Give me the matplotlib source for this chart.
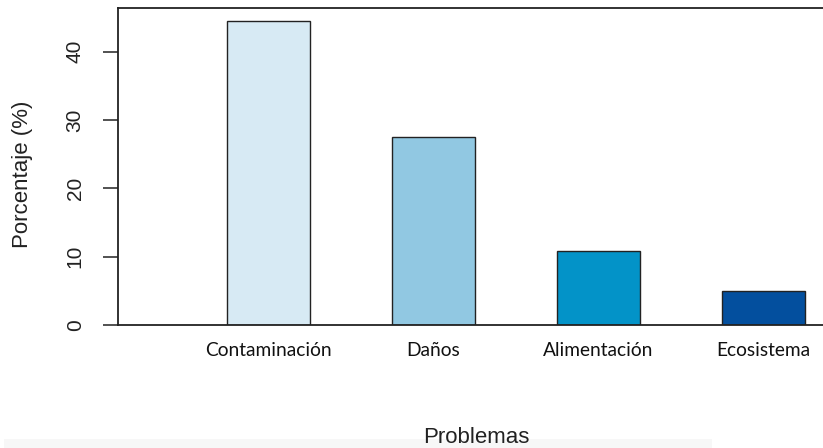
import matplotlib
matplotlib.use('Agg')
import matplotlib.pyplot as plt
from matplotlib.patches import Rectangle

categorias = ['Contaminación', 'Daños', 'Alimentación', 'Ecosistema']
porcentajes = [44.5, 27.5, 10.8, 5.0]
colores = ['#d7eaf4', '#91c8e2', '#0393c8', '#034f9e']
yticks = [0, 10, 20, 30, 40]

W, H = 823, 448
fig = plt.figure(figsize=(W / 100, H / 100), dpi=100)
fig.patch.set_facecolor('white')

# faint gray band at the very bottom of the screenshot
fig.patches.append(Rectangle((0.005, 0), 0.86, 9 / H, transform=fig.transFigure,
                             facecolor='#f7f7f7', edgecolor='none', zorder=0))

left, right, top, bottom = 118, 823, 8, 325
ax = fig.add_axes([left / W, (H - bottom) / H, (right - left) / W, (bottom - top) / H])

x = range(1, len(categorias) + 1)
ax.bar(x, porcentajes, width=0.5, color=colores, edgecolor='#222222', linewidth=1.0, zorder=2)

ax.set_xlim(0.088, 4.36)
ax.set_ylim(0, 46.4)

for s in ['left', 'top', 'bottom']:
    ax.spines[s].set_linewidth(1.3)
    ax.spines[s].set_color('#222222')
ax.spines['right'].set_visible(False)

ax.set_yticks(yticks)
ax.set_yticklabels([str(v) for v in yticks], fontsize=15, family='Liberation Sans',
                   color='#222222')
ax.tick_params(axis='y', length=11, width=1.1, pad=13, color='#222222', labelrotation=90)
for lab in ax.get_yticklabels():
    lab.set_va('center')

ax.set_xticks(list(x))
ax.set_xticklabels(categorias, fontsize=13.8, family='Lato', color='#111111')
ax.tick_params(axis='x', length=0, pad=12)

fig.text(23 / W, 1 - 174 / H, 'Porcentaje (%)', rotation=90, ha='center', va='center',
         fontsize=16, family='Liberation Sans', color='#222222')
fig.text(476 / W, 1 - 443 / H, 'Problemas', ha='center', va='baseline',
         fontsize=16, family='Liberation Sans', color='#222222')

fig.savefig('out.png', dpi=100)
